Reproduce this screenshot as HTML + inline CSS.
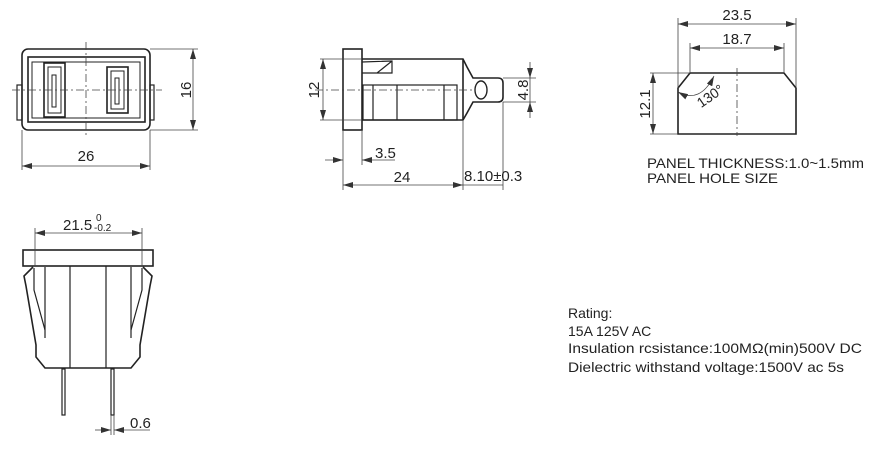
<!DOCTYPE html>
<html><head><meta charset="utf-8"><style>
html,body{margin:0;padding:0;background:#fff;}
svg{display:block;}
text{font-family:"Liberation Sans",Arial,sans-serif;fill:#222;}
</style></head><body>
<svg width="885" height="458" viewBox="0 0 885 458" xmlns="http://www.w3.org/2000/svg">
<defs>
<marker id="a" viewBox="0 0 10 6" refX="10" refY="3" markerWidth="10" markerHeight="6" orient="auto-start-reverse" markerUnits="userSpaceOnUse"><path d="M0,0 L10,3 L0,6 z" fill="#333"/></marker>
</defs>
<g fill="none" stroke="#222" stroke-width="1.6">
<rect x="22" y="49" width="128" height="81" rx="6"/>
<rect x="28" y="57" width="117" height="65"/>
<rect x="32" y="62" width="108" height="56" stroke-width="1"/>
<rect x="44" y="63" width="21" height="54"/>
<rect x="48" y="67" width="13" height="46" stroke-width="1"/>
<rect x="52" y="75" width="4" height="32" stroke-width="1"/>
<rect x="107" y="67" width="21" height="46"/>
<rect x="111" y="71" width="13" height="38" stroke-width="1"/>
<rect x="115" y="78" width="4" height="26" stroke-width="1"/>
<rect x="17" y="85" width="5" height="35" stroke-width="1.2"/>
<rect x="150" y="85" width="4" height="35" stroke-width="1.2"/>
</g>
<g stroke="#444" stroke-width="0.8" fill="none">
<line x1="86" y1="42" x2="86" y2="137" stroke-dasharray="8,3,2,3"/>
<line x1="12" y1="90" x2="162" y2="90" stroke-dasharray="8,3,2,3"/>
<line x1="150" y1="49" x2="198" y2="49"/><line x1="150" y1="130" x2="198" y2="130"/>
<line x1="193" y1="49" x2="193" y2="130" marker-start="url(#a)" marker-end="url(#a)"/>
<line x1="22" y1="130" x2="22" y2="170"/><line x1="150" y1="130" x2="150" y2="170"/>
<line x1="22" y1="166" x2="150" y2="166" marker-start="url(#a)" marker-end="url(#a)"/>
</g>
<text x="86" y="161" font-size="15" text-anchor="middle">26</text>
<text transform="translate(191,90) rotate(-90)" font-size="15" text-anchor="middle">16</text>

<g fill="none" stroke="#222" stroke-width="1.6">
<rect x="343" y="49" width="19" height="81"/>
<path d="M362,59 L463,59 L467,67 L473,78 L498,78 Q503,78 503,83 L503,97 Q503,102 498,102 L473,102 L467,113 L463,120 L362,120"/>
<line x1="463" y1="59" x2="463" y2="120"/>
<path d="M362,62 L392,61 L392,73 L362,73 M392,61 L377,73" stroke-width="1.2"/>
<rect x="363" y="85" width="94" height="35" stroke-width="1.2"/>
<line x1="373" y1="85" x2="373" y2="120" stroke-width="1.2"/>
<line x1="397" y1="85" x2="397" y2="120" stroke-width="1.2"/>
<line x1="444" y1="85" x2="444" y2="120" stroke-width="1.2"/>
<ellipse cx="481" cy="90" rx="6" ry="9" stroke-width="1.4"/>
</g>
<g stroke="#444" stroke-width="0.8" fill="none">
<line x1="315" y1="90" x2="472" y2="90" stroke-dasharray="8,3,2,3"/>
<line x1="320" y1="59" x2="362" y2="59"/><line x1="320" y1="120" x2="362" y2="120"/>
<line x1="323" y1="59" x2="323" y2="120" marker-start="url(#a)" marker-end="url(#a)"/>
<line x1="503" y1="78" x2="536" y2="78"/><line x1="503" y1="102" x2="536" y2="102"/>
<line x1="530" y1="62" x2="530" y2="78" marker-end="url(#a)"/>
<line x1="530" y1="118" x2="530" y2="102" marker-end="url(#a)"/>
<line x1="530" y1="78" x2="530" y2="102"/>
<line x1="343" y1="130" x2="343" y2="190"/><line x1="362" y1="130" x2="362" y2="165"/>
<line x1="325" y1="160" x2="343" y2="160" marker-end="url(#a)"/>
<line x1="395" y1="160" x2="362" y2="160" marker-end="url(#a)"/>
<line x1="463" y1="120" x2="463" y2="190"/><line x1="503" y1="102" x2="503" y2="190"/>
<line x1="343" y1="185" x2="463" y2="185" marker-start="url(#a)" marker-end="url(#a)"/>
<line x1="463" y1="185" x2="503" y2="185"/>
</g>
<text transform="translate(319,90) rotate(-90)" font-size="15" text-anchor="middle">12</text>
<text transform="translate(528,90) rotate(-90)" font-size="15" text-anchor="middle">4.8</text>
<text x="375" y="158" font-size="15">3.5</text>
<text x="402" y="182" font-size="15" text-anchor="middle">24</text>
<text x="464" y="181" font-size="15">8.10±0.3</text>

<g fill="none" stroke="#222" stroke-width="1.6">
<path d="M690,73 L784,73 L796,88 L796,134 L678,134 L678,88 Z"/>
</g>
<g stroke="#444" stroke-width="0.8" fill="none">
<line x1="737" y1="68" x2="737" y2="136" stroke-dasharray="8,3,2,3"/>
<line x1="678" y1="18" x2="678" y2="88"/><line x1="796" y1="18" x2="796" y2="88"/>
<line x1="678" y1="24" x2="796" y2="24" marker-start="url(#a)" marker-end="url(#a)"/>
<line x1="690" y1="43" x2="690" y2="73"/><line x1="784" y1="43" x2="784" y2="73"/>
<line x1="690" y1="48" x2="784" y2="48" marker-start="url(#a)" marker-end="url(#a)"/>
<line x1="650" y1="73" x2="690" y2="73"/><line x1="650" y1="134" x2="678" y2="134"/>
<line x1="653" y1="73" x2="653" y2="134" marker-start="url(#a)" marker-end="url(#a)"/>
<path d="M678,92 Q700,104 714,76" marker-start="url(#a)" marker-end="url(#a)"/>
</g>
<text x="737" y="20" font-size="15" text-anchor="middle">23.5</text>
<text x="737" y="44" font-size="15" text-anchor="middle">18.7</text>
<text transform="translate(650,104) rotate(-90)" font-size="15" text-anchor="middle">12.1</text>
<text transform="translate(713,100) rotate(-35)" font-size="14" text-anchor="middle">130°</text>
<text x="647" y="168" font-size="14" textLength="217" lengthAdjust="spacingAndGlyphs">PANEL THICKNESS:1.0~1.5mm</text>
<text x="647" y="183" font-size="14" textLength="131" lengthAdjust="spacingAndGlyphs">PANEL HOLE SIZE</text>

<g fill="none" stroke="#222" stroke-width="1.6">
<rect x="23" y="250" width="130" height="16"/>
<path d="M33,267 L24,276 L26,286 L36,345 L36,357 L45,368 L131,368 L140,357 L140,345 L150,286 L152,276 L143,267"/>
<line x1="45" y1="267" x2="45" y2="338" stroke-width="1.2"/>
<line x1="131" y1="267" x2="131" y2="338" stroke-width="1.2"/>
<path d="M34,268 L34,290 L45,330 M142,268 L142,290 L131,330" stroke-width="1.2"/>
<line x1="70" y1="266" x2="70" y2="368" stroke-width="1.2"/>
<line x1="106" y1="266" x2="106" y2="368" stroke-width="1.2"/>
<rect x="62" y="369" width="3" height="46" stroke-width="1.2"/>
<rect x="111" y="369" width="3" height="46" stroke-width="1.2"/>
</g>
<g stroke="#444" stroke-width="0.8" fill="none">
<line x1="35" y1="228" x2="35" y2="266"/><line x1="142" y1="228" x2="142" y2="266"/>
<line x1="35" y1="233" x2="142" y2="233" marker-start="url(#a)" marker-end="url(#a)"/>
<line x1="111" y1="415" x2="111" y2="435"/><line x1="114" y1="415" x2="114" y2="435"/>
<line x1="95" y1="430" x2="111" y2="430" marker-end="url(#a)"/>
<line x1="150" y1="430" x2="114" y2="430" marker-end="url(#a)"/>
</g>
<text x="63" y="230" font-size="15">21.5</text>
<text x="96" y="221" font-size="10">0</text>
<text x="94" y="231" font-size="10">-0.2</text>
<text x="130" y="428" font-size="15">0.6</text>

<text x="568" y="318" font-size="14">Rating:</text>
<text x="568" y="336" font-size="14">15A 125V AC</text>
<text x="568" y="353" font-size="14" textLength="294" lengthAdjust="spacingAndGlyphs">Insulation rcsistance:100MΩ(min)500V  DC</text>
<text x="568" y="372" font-size="14" textLength="276" lengthAdjust="spacingAndGlyphs">Dielectric withstand voltage:1500V ac 5s</text>
</svg>
</body></html>
